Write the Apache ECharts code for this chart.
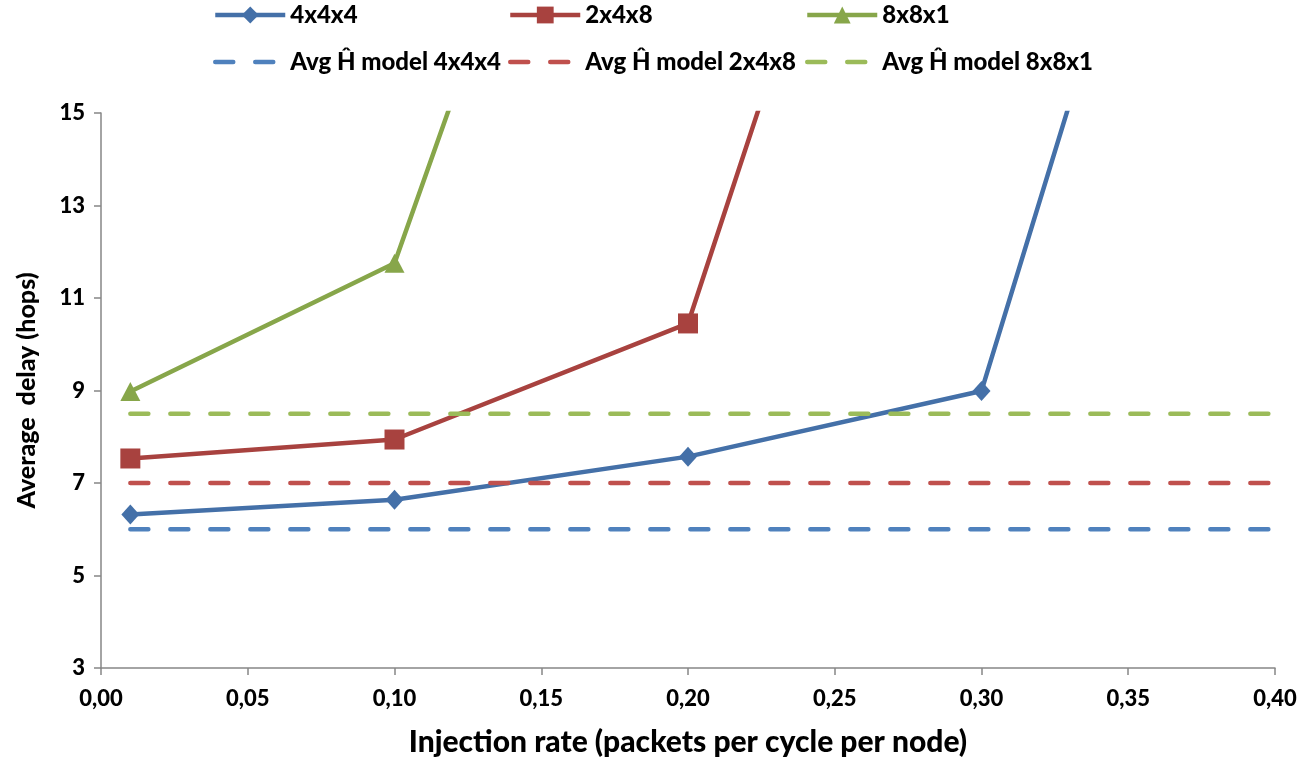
<!DOCTYPE html>
<html>
<head>
<meta charset="utf-8">
<script src="https://cdn.jsdelivr.net/npm/echarts@6/dist/echarts.min.js"></script>
<style>
  html, body { margin: 0; padding: 0; background: #ffffff; }
  #chart { width: 1304px; height: 762px; }
</style>
</head>
<body>
<div id="chart"></div>
<script>
// Injection rates (packets per cycle per node)
const rates4x4x4 = [0.01, 0.10, 0.20, 0.30, 0.40];
const rates2x4x8 = [0.01, 0.10, 0.20, 0.30];
const rates8x8x1 = [0.01, 0.10, 0.20];

// Measured average delay (hops)
const delay4x4x4 = [6.32, 6.64, 7.57, 8.99, 29.7];
const delay2x4x8 = [7.53, 7.94, 10.45, 29.7];
const delay8x8x1 = [8.98, 11.75, 29.7];

// Analytical average hop count per topology
const modelRange = [0.01, 0.40];
const model4x4x4 = 6.0;
const model2x4x8 = 7.0;
const model8x8x1 = 8.5;

const measuredNames = ['4x4x4', '2x4x8', '8x8x1'];
const modelNames = ['Avg Ĥ model 4x4x4', 'Avg Ĥ model 2x4x8', 'Avg Ĥ model 8x8x1'];

const yTicks = [3, 5, 7, 9, 11, 13, 15];

const FONT = 'Lato';
const AXIS_GREY = '#868686';
const SOLID = ['#4470A8', '#A8423F', '#87A64A'];
const DASHED = ['#4F81BD', '#C0504D', '#9BBB59'];
const DASH = [18, 22];

function pairs(xs, ys) {
  return xs.map((x, i) => [x, ys[i]]);
}
function flat(level) {
  return modelRange.map(x => [x, level]);
}

function measured(name, xs, ys, color, symbol, size) {
  return {
    name, type: 'line', data: pairs(xs, ys),
    symbol, symbolSize: size,
    itemStyle: { color },
    lineStyle: { color, width: 4.5 },
    emphasis: { disabled: true },
    animation: false
  };
}
function model(name, level, color) {
  return {
    name, type: 'line', data: flat(level),
    symbol: 'none',
    itemStyle: { color },
    lineStyle: { color, width: 4.5, type: DASH, cap: 'round' },
    emphasis: { disabled: true },
    animation: false
  };
}

// one legend entry per component so the two rows line up in columns
const legendCols = [213, 508, 805];
function legendEntry(left, top, item) {
  return {
    left, top,
    orient: 'horizontal',
    itemWidth: 70,
    itemHeight: 21,
    itemGap: 0,
    padding: 0,
    selectedMode: false,
    textStyle: { fontFamily: FONT, fontWeight: 900, fontSize: 24, color: '#000' },
    data: [item]
  };
}
const legends = [];
measuredNames.forEach((name, i) => {
  legends.push(legendEntry(legendCols[i], 3, {
    name,
    itemStyle: { color: SOLID[i] },
    lineStyle: { color: SOLID[i], width: 4.5 }
  }));
});
modelNames.forEach((name, i) => {
  legends.push(legendEntry(legendCols[i], 50, {
    name,
    itemStyle: { color: 'rgba(0,0,0,0)', opacity: 0 },
    lineStyle: { color: DASHED[i], width: 4.5, type: DASH, cap: 'round' }
  }));
});

const chart = echarts.init(document.getElementById('chart'), null, { renderer: 'canvas' });
chart.setOption({
  backgroundColor: '#ffffff',
  animation: false,
  legend: legends,
  grid: { left: 101, right: 29, top: 113, bottom: 94, containLabel: false },
  xAxis: {
    type: 'value', min: 0, max: 0.4, interval: 0.05,
    name: 'Injection rate (packets per cycle per node)',
    nameLocation: 'middle', nameGap: 59,
    nameTextStyle: { fontFamily: FONT, fontWeight: 900, fontSize: 30, color: '#000' },
    axisLine: { lineStyle: { color: AXIS_GREY, width: 1.5 } },
    axisTick: { show: true, length: 7, lineStyle: { color: AXIS_GREY, width: 1.5 } },
    splitLine: { show: false },
    axisLabel: {
      fontFamily: FONT, fontWeight: 900, fontSize: 22, color: '#000', margin: 20,
      formatter: v => v.toFixed(2).replace('.', ',')
    }
  },
  yAxis: {
    type: 'value', min: 3, max: 15,
    name: 'Average  delay (hops)',
    nameLocation: 'middle', nameGap: 62,
    nameTextStyle: { fontFamily: FONT, fontWeight: 900, fontSize: 25, color: '#000' },
    axisLine: { show: true, lineStyle: { color: AXIS_GREY, width: 1.5 } },
    axisTick: { show: true, length: 7, customValues: yTicks, lineStyle: { color: AXIS_GREY, width: 1.5 } },
    splitLine: { show: false },
    axisLabel: {
      fontFamily: FONT, fontWeight: 900, fontSize: 22, color: '#000', margin: 16,
      customValues: yTicks
    }
  },
  series: [
    measured(measuredNames[0], rates4x4x4, delay4x4x4, SOLID[0], 'diamond', [18, 20]),
    measured(measuredNames[1], rates2x4x8, delay2x4x8, SOLID[1], 'rect', 20),
    measured(measuredNames[2], rates8x8x1, delay8x8x1, SOLID[2], 'triangle', [20, 19]),
    model(modelNames[0], model4x4x4, DASHED[0]),
    model(modelNames[1], model2x4x8, DASHED[1]),
    model(modelNames[2], model8x8x1, DASHED[2])
  ]
});
</script>
</body>
</html>
